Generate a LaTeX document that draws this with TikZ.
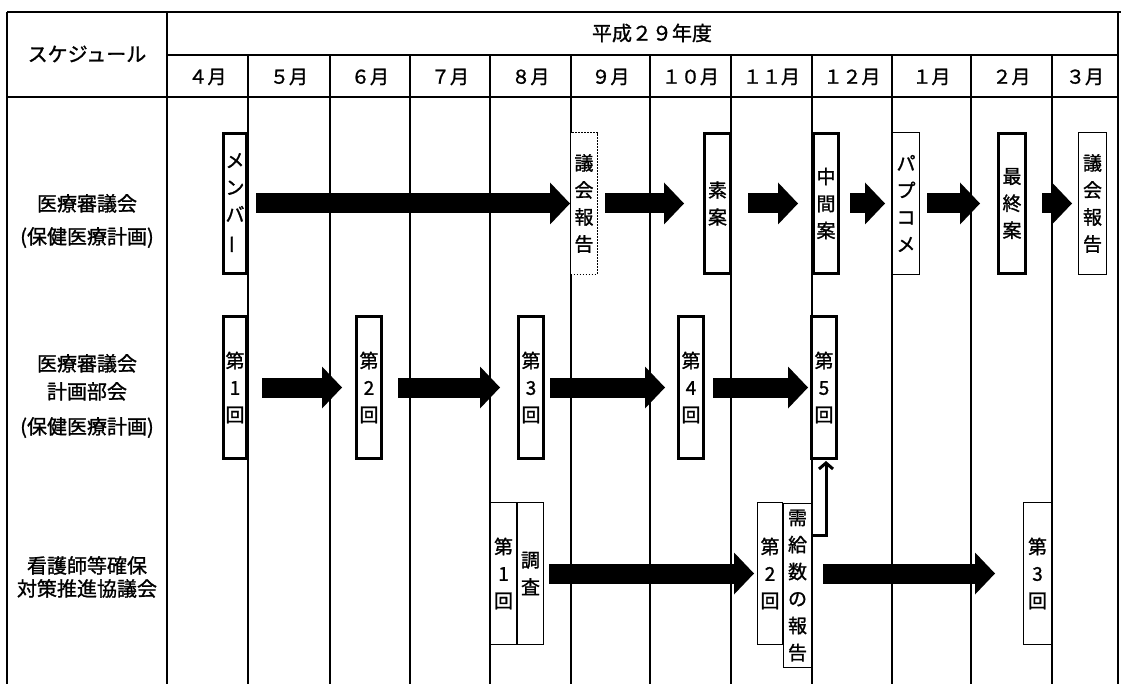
\documentclass[tikz,border=0pt]{standalone}
\usepackage{fontspec}
\setmainfont{Noto Sans CJK JP}[FakeBold=1.2]
\usetikzlibrary{arrows.meta}
\begin{document}
\begin{tikzpicture}[x=1pt,y=-1pt,
  grid/.style={line width=1.1pt},
  frame/.style={line width=2pt},
  box/.style={draw, fill=white, inner sep=0pt, align=center, font=\fontsize{19}{27}\selectfont},
  thk/.style={box, line width=2.6pt},
  thn/.style={box, line width=1.3pt},
  dotbox/.style={box, line width=1.4pt, dash pattern=on 1.6pt off 1.4pt},
  fat/.style={line width=20pt, -{Triangle[length=20pt,width=42pt,line width=0pt]}},
  lab/.style={font=\fontsize{20}{25}\selectfont, align=center},
  mon/.style={font=\fontsize{19}{22}\selectfont},
  uparrow/.style={line width=3pt, -{Straight Barb[length=6pt,width=14pt,line width=3pt]}},
]
\useasboundingbox (0,0) rectangle (1121,684);
\fill[white] (0,0) rectangle (1121,684);

% table grid
\foreach \x in {248,330,410,490,571,650,731,812,892,971,1052}
  \draw[grid] (\x,55) -- (\x,684);
\draw[grid] (167,55) -- (1118,55);
\draw[frame] (7,97) -- (1118,97);
\draw[frame] (7,12) -- (1121,12);
\draw[frame] (7,12) -- (7,684);
\draw[frame] (167,12) -- (167,684);
\draw[frame] (1118,12) -- (1118,684);

% header texts
\node[lab] (sched) at (87,54) {スケジュール};
\node[lab] (year) at (652,33) {平成２９年度};
\node[mon] (m4)  at (207.5,77) {４月};
\node[mon] (m5)  at (289,77) {５月};
\node[mon] (m6)  at (370,77) {６月};
\node[mon] (m7)  at (450,77) {７月};
\node[mon] (m8)  at (530.5,77) {８月};
\node[mon] (m9)  at (610.5,77) {９月};
\node[mon] (m10) at (690.5,77) {１０月};
\node[mon] (m11) at (771.5,77) {１１月};
\node[mon] (m12) at (852,77) {１２月};
\node[mon] (m1)  at (931.5,77) {１月};
\node[mon] (m2)  at (1011.5,77) {２月};
\node[mon] (m3)  at (1085,77) {３月};

% row labels
\node[lab] (lab1) at (87,221) {医療審議会\\[8pt](保健医療計画)};
\node[lab, font=\fontsize{20}{28}\selectfont] (lab2) at (87,396) {医療審議会\\計画部会\\[7pt](保健医療計画)};
\node[lab, font=\fontsize{20}{23}\selectfont] (lab3) at (87,577) {看護師等確保\\対策推進協議会};

% row 1
\node[thk, minimum width=23.4pt, minimum height=140.4pt] (mem) at (235,203.5) {メ\\ン\\バ\\\rotatebox[origin=c]{90}{ー}};
\node[dotbox, minimum width=26.6pt, minimum height=141.6pt] (gi1) at (584,203.5) {議\\会\\報\\告};
\node[thk, minimum width=26.4pt, minimum height=140.4pt] (so) at (717.5,203.5) {素\\案};
\node[thk, minimum width=25.4pt, minimum height=140.4pt] (chu) at (826,203.5) {中\\間\\案};
\node[thn, minimum width=26.7pt, minimum height=141.7pt] (pab) at (906,203.5) {パ\\プ\\コ\\メ};
\node[thk, minimum width=27.4pt, minimum height=140.4pt] (sai) at (1012,203.5) {最\\終\\案};
\node[thn, minimum width=27.7pt, minimum height=141.7pt] (gi2) at (1092.5,203.5) {議\\会\\報\\告};

\draw[fat, shorten <=8pt] (mem) -- (gi1);
\draw[fat, shorten <=7pt, shorten >=19pt] (gi1) -- (so);
\draw[fat, shorten <=16pt, shorten >=14pt] (so) -- (chu);
\draw[fat, shorten <=10pt, shorten >=7pt] (chu) -- (pab);
\draw[fat, shorten <=7pt, shorten >=17pt] (pab) -- (sai);
\draw[fat, shorten <=15pt, shorten >=6pt] (sai) -- (gi2);

% row 2
\node[thk, minimum width=23.4pt, minimum height=142.4pt] (k1) at (235,387.5) {第\\1\\回};
\node[thk, minimum width=25.4pt, minimum height=142.4pt] (k2) at (369,387.5) {第\\2\\回};
\node[thk, minimum width=25.4pt, minimum height=142.4pt] (k3) at (531,387.5) {第\\3\\回};
\node[thk, minimum width=25.4pt, minimum height=142.4pt] (k4) at (691,387.5) {第\\4\\回};
\node[thk, minimum width=25.4pt, minimum height=142.4pt] (k5) at (824,387.5) {第\\5\\回};

\draw[fat, shorten <=14pt, shorten >=13pt] (k1) -- (k2);
\draw[fat, shorten <=15pt, shorten >=17pt] (k2) -- (k3);
\draw[fat, shorten <=5pt, shorten >=12pt] (k3) -- (k4);
\draw[fat, shorten <=8pt, shorten >=2pt] (k4) -- (k5);

% row 3
\node[thn, minimum width=25.7pt, minimum height=141.7pt] (n1) at (503.5,573.5) {第\\1\\回};
\node[thn, minimum width=25.7pt, minimum height=141.7pt] (cho) at (530.5,573.5) {調\\査};
\node[thn, minimum width=24.7pt, minimum height=141.7pt] (n2) at (770,573.5) {第\\2\\回};
\node[thn, minimum width=27.7pt, minimum height=163.7pt] (ju) at (797.5,585.5) {需\\給\\数\\の\\報\\告};
\node[thn, minimum width=27.7pt, minimum height=141.7pt] (n3) at (1037.5,573.5) {第\\3\\回};

\draw[fat, shorten <=5pt, shorten >=3pt] (cho) -- (n2);
\draw[fat, shorten <=11pt, shorten >=28pt] (ju.east |- n3.west) -- (n3.west);

\draw[uparrow] ([yshift=-32pt]ju.north east) -| ([xshift=2pt,yshift=-1pt]k5.south);
\end{tikzpicture}
\end{document}
